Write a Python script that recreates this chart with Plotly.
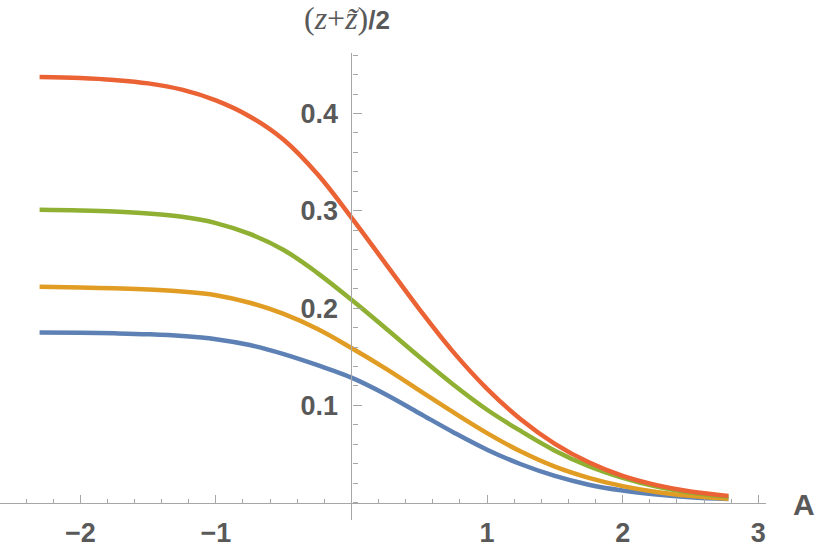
import plotly.graph_objects as go

# ---- data ----
A_vals = [-2.3, -2.0, -1.75, -1.5, -1.25, -1.0, -0.75, -0.5, -0.25, 0.0,
          0.25, 0.5, 0.75, 1.0, 1.25, 1.5, 1.75, 2.0, 2.25, 2.5, 2.78]

blue = [0.175, 0.1747, 0.1741, 0.1731, 0.1713, 0.1680, 0.1620, 0.1527, 0.1413, 0.1285,
        0.1115, 0.092, 0.0725, 0.0545, 0.0395, 0.0275, 0.0185, 0.0125, 0.0085, 0.0057, 0.0038]
orange = [0.222, 0.2212, 0.2203, 0.2191, 0.2170, 0.2133, 0.2055, 0.1940, 0.1785, 0.159,
          0.138, 0.1155, 0.093, 0.0715, 0.0525, 0.037, 0.0255, 0.017, 0.011, 0.007, 0.004]
green = [0.301, 0.3003, 0.2992, 0.2972, 0.2938, 0.2874, 0.2762, 0.2597, 0.2360, 0.2085,
         0.1795, 0.150, 0.1215, 0.0955, 0.0735, 0.0535, 0.0375, 0.0255, 0.0165, 0.0105, 0.006]
red = [0.4375, 0.4365, 0.4345, 0.431, 0.4245, 0.4135, 0.397, 0.373, 0.3375, 0.293,
       0.246, 0.199, 0.155, 0.117, 0.0855, 0.0605, 0.0415, 0.0275, 0.018, 0.0115, 0.007]

series = [("blue", blue, "#5E81B5"), ("orange", orange, "#E19C24"),
          ("green", green, "#8FB032"), ("red", red, "#EB6235")]

x_ticks = [-2, -1, 1, 2, 3]
x_tick_text = ["\u22122", "\u22121", "1", "2", "3"]
y_ticks = [0.1, 0.2, 0.3, 0.4]
y_tick_text = ["0.1", "0.2", "0.3", "0.4"]

x_label = "A"
y_label = ('(<i>z</i>+<i>z\u0303</i>)'
           '<span style="font-family:Liberation Sans;font-size:26px"><b>/2</b></span>')

# ---- ranges ----
xr = [-2.592, 3.057]
yr = [-0.0178, 0.4622]

fig = go.Figure()
for name, ys, col in series:
    fig.add_trace(go.Scatter(x=A_vals, y=ys, mode="lines", name=name,
                             line=dict(color=col, width=4.5, shape="spline", smoothing=1.1),
                             showlegend=False, hoverinfo="skip"))

axis_col = "#A6A6A6"
lab_col = "#595959"
tick_font = dict(family="Liberation Sans", size=27, color=lab_col, weight="bold")

xpos = (0 - yr[0]) / (yr[1] - yr[0])
ypos = (0 - xr[0]) / (xr[1] - xr[0])

fig.update_layout(
    width=817, height=550,
    margin=dict(l=0, r=817 - 766, t=53, b=30),
    paper_bgcolor="white", plot_bgcolor="white",
    xaxis=dict(range=xr, showgrid=False, zeroline=False, showline=True,
               linecolor=axis_col, linewidth=1.2,
               anchor="free", position=xpos,
               tickmode="array", tickvals=x_ticks, ticktext=x_tick_text,
               ticks="inside", ticklen=8, tickcolor=axis_col, tickwidth=1,
               tickfont=tick_font, ticklabelstandoff=6,
               minor=dict(ticks="inside", ticklen=4, tickcolor=axis_col, dtick=0.2, tick0=0,
                          showgrid=False)),
    yaxis=dict(range=yr, showgrid=False, zeroline=False, showline=True,
               linecolor=axis_col, linewidth=1.2,
               anchor="free", position=ypos,
               tickmode="array", tickvals=y_ticks, ticktext=y_tick_text,
               ticks="inside", ticklen=9, tickcolor=axis_col, tickwidth=1,
               tickfont=tick_font, ticklabelstandoff=8,
               minor=dict(ticks="inside", ticklen=5, tickcolor=axis_col, dtick=0.02, tick0=0,
                          showgrid=False)),
)

fig.add_annotation(xref="paper", yref="paper", x=(804) / 766, y=(520 - 504) / 467,
                   text=x_label, showarrow=False, xanchor="center", yanchor="middle",
                   font=dict(family="Liberation Sans", size=30, color=lab_col, weight="bold"))
fig.add_annotation(xref="paper", yref="paper", x=302 / 766, y=(520 - 18) / 467,
                   text=y_label, showarrow=False, xanchor="left", yanchor="middle",
                   font=dict(family="Liberation Serif", size=32, color=lab_col))

fig.write_html("out.html")
